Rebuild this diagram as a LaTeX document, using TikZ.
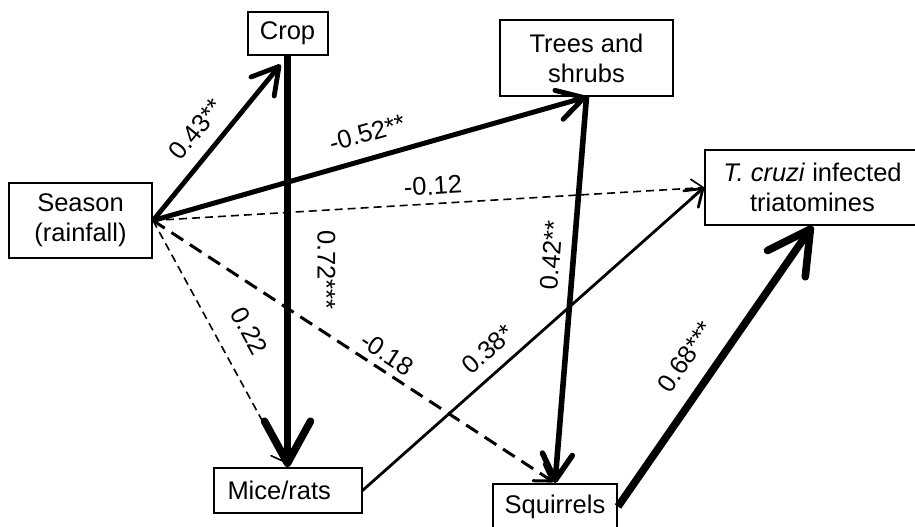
\documentclass[tikz,border=0pt]{standalone}
\usepackage{fontspec}
\setmainfont{Liberation Sans}
\usetikzlibrary{arrows.meta}
\newcommand{\pathfont}{\fontsize{12.75pt}{15pt}\selectfont}
\tikzset{
  var/.style={draw, line width=1pt, inner sep=0pt, align=center, font=\pathfont},
  coef/.style={sloped, inner sep=0pt, font=\pathfont},
  dashlight/.style={line width=0.8pt, dash pattern=on 4pt off 2.5pt, -{Straight Barb[length=6pt,width=9pt,round]}},
  dashmid/.style={line width=1.5pt, dash pattern=on 7pt off 4pt, -{Straight Barb[length=8pt,width=10pt,round]}},
  linelight/.style={line width=1.4pt, -{Straight Barb[length=8pt,width=11pt,round]}},
  linebold/.style={line width=2.5pt, -{Straight Barb[length=13pt,width=15pt,round]}},
  lineheavy/.style={line width=3.8pt, -{Straight Barb[length=21pt,width=23pt,round]}}
}
\begin{document}
\begin{tikzpicture}[x=0.5pt, y=-0.5pt]
  \useasboundingbox (0,0) rectangle (915,526);
  \node[var, minimum width=40pt, minimum height=21.5pt] (crop) at (287.5,33.5) {Crop};
  \node[var, minimum width=86.5pt, minimum height=38pt] (trees) at (586.5,58) {Trees and\\shrubs};
  \node[var, minimum width=71.5pt, minimum height=37.5pt] (season) at (80.5,220.5) {Season\\(rainfall)};
  \node[var, minimum width=107.5pt, minimum height=37.5pt] (tcruzi) at (812.5,187.5) {\textit{T. cruzi} infected\\triatomines};
  \node[var, minimum width=74pt, minimum height=22.5pt, text width=60pt, align=left] (mice) at (287.5,490.5) {Mice/rats};
  \node[var, minimum width=62pt, minimum height=22.5pt] (squirrels) at (555,506.5) {Squirrels};
  \draw[linebold, line width=2.4pt, shorten >=5.5pt] (season.east) -- (crop.south)
    node[coef, pos=0.46, above=6.5pt] {0.43**};
  \draw[linebold] (season.east) -- (trees.south)
    node[coef, pos=0.51, above=7pt] {-0.52**};
  \draw[dashlight] (season.east) -- (tcruzi.west)
    node[coef, pos=0.51, above=4pt] {-0.12};
  \draw[dashlight, shorten >=2.5pt] (season.east) -- (mice.north)
    node[coef, pos=0.51, above=11pt] {0.22};
  \draw[dashmid, shorten >=1pt] (season.east) -- (squirrels.north)
    node[coef, pos=0.56, above=3pt] {-0.18};
  \draw[lineheavy] (crop.south) -- (mice.north)
    node[coef, pos=0.52, above=13pt] {0.72***};
  \draw[linebold, line width=2.8pt] (trees.south) -- (squirrels.north)
    node[coef, pos=0.415, above=5pt] {0.42**};
  \draw[linelight] (mice.east) -- (tcruzi.west)
    node[coef, pos=0.41, above=6pt] {0.38*};
  \draw[lineheavy] (squirrels.east) -- (tcruzi.south)
    node[coef, pos=0.474, above=8.5pt] {0.68***};
\end{tikzpicture}
\end{document}
